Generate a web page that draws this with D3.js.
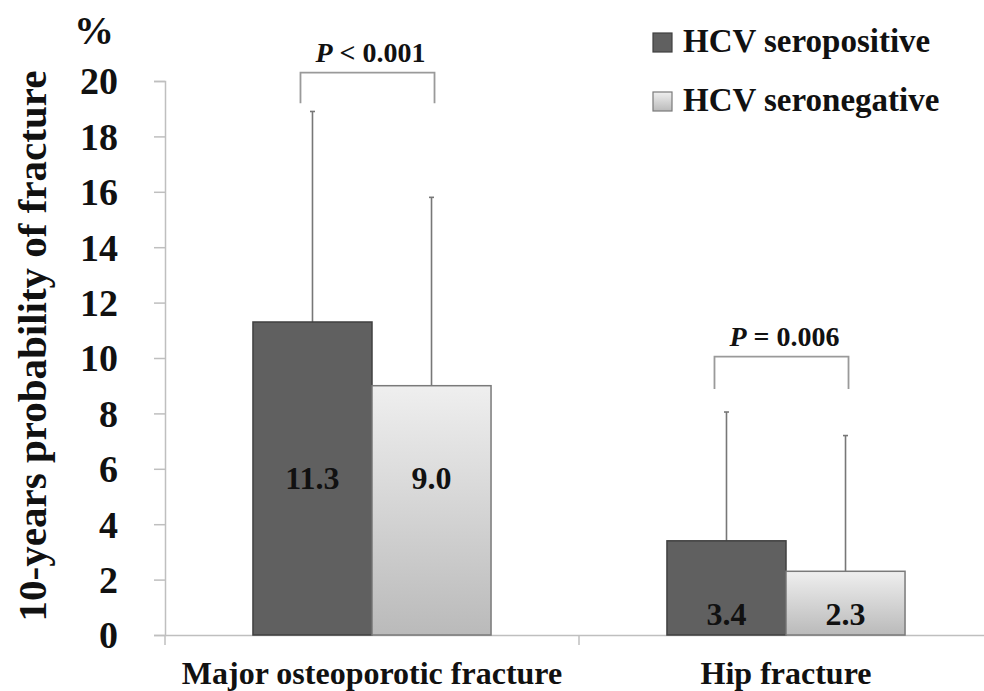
<!DOCTYPE html>
<html>
<head>
<meta charset="utf-8">
<script src="https://cdn.jsdelivr.net/npm/d3@7"></script>
<style>
  html, body { margin: 0; padding: 0; background: #fff; }
  svg { display: block; }
  text { font-family: "Liberation Serif", "Times New Roman", serif; font-weight: bold; fill: #111; }
</style>
</head>
<body>
<svg id="chart" width="984" height="691"></svg>
<script>
// ---- data ----
const categories = ["Major osteoporotic fracture", "Hip fracture"];
const series = ["HCV seropositive", "HCV seronegative"];
const seropositive = [11.3, 3.4];
const seronegative = [9.0, 2.3];
const seropositiveUpper = [18.9, 8.05];   // top of error bar
const seronegativeUpper = [15.8, 7.2];
const valueLabels = [["11.3", "9.0"], ["3.4", "2.3"]];
const labelLevel = [5.65, 0.75];          // value at which the bar labels sit
const pTexts = ["< 0.001", "= 0.006"];
const bracketTop = [20.3, 10.05];
const bracketBottom = [19.2, 8.88];
const yTicks = [0, 2, 4, 6, 8, 10, 12, 14, 16, 18, 20];
const yTitle = "10-years probability of fracture";

const svg = d3.select("#chart");
const defs = svg.append("defs");
const grad = defs.append("linearGradient").attr("id", "lightGrad")
  .attr("x1", 0).attr("y1", 0).attr("x2", 0).attr("y2", 1);
grad.append("stop").attr("offset", "0%").attr("stop-color", "#efefef");
grad.append("stop").attr("offset", "100%").attr("stop-color", "#bababa");

const colors = { fill: ["#606060", "url(#lightGrad)"], stroke: ["#404040", "#7a7a7a"] };

const y = d3.scaleLinear().domain([0, 20]).range([635, 81]);
const x0 = d3.scaleBand().domain(categories).range([165, 993]).paddingInner(0).paddingOuter(0);
const x1 = d3.scaleBand().domain(series).range([0, x0.bandwidth()]).paddingInner(0).paddingOuter(0.739);

// y axis
const yAxis = svg.append("g").attr("transform", "translate(165,0)")
  .call(d3.axisLeft(y).tickValues(yTicks).tickSize(11).tickPadding(36).tickFormat(d3.format("d")));
yAxis.select(".domain").attr("stroke", "#bfbfbf").attr("stroke-width", 1.5);
yAxis.selectAll(".tick line").attr("stroke", "#bfbfbf").attr("stroke-width", 1.5);
yAxis.selectAll(".tick text").style("font-size", "38px").style("font-family", "Liberation Serif")
  .style("font-weight", "bold").attr("fill", "#111").attr("dy", "0.34em");

// x axis
const xAxis = svg.append("g").attr("transform", `translate(0,${y(0)})`)
  .call(d3.axisBottom(x0).tickSize(0).tickPadding(26));
xAxis.select(".domain").attr("stroke", "#bfbfbf").attr("stroke-width", 1.5);
xAxis.selectAll(".tick text").style("font-size", "32px").style("font-family", "Liberation Serif")
  .style("font-weight", "bold").attr("fill", "#111");
// category separators
xAxis.selectAll(".sep").data(categories.concat(["__end"])).enter().append("line")
  .attr("class", "sep")
  .attr("x1", d => d === "__end" ? x0.range()[1] : x0(d))
  .attr("x2", d => d === "__end" ? x0.range()[1] : x0(d))
  .attr("y1", 0).attr("y2", 10)
  .attr("stroke", "#bfbfbf").attr("stroke-width", 1.5);

// rows
const rows = categories.map((c, i) => ({
  cat: c,
  vals: [seropositive[i], seronegative[i]],
  ups: [seropositiveUpper[i], seronegativeUpper[i]],
  labels: valueLabels[i],
  level: labelLevel[i],
  p: pTexts[i], bt: bracketTop[i], bb: bracketBottom[i]
}));

const groups = svg.append("g").selectAll("g").data(rows).enter().append("g")
  .attr("transform", d => `translate(${x0(d.cat)},0)`);

// error bars (behind bars)
groups.each(function(d) {
  const g = d3.select(this);
  series.forEach((s, j) => {
    const cx = x1(s) + x1.bandwidth() / 2;
    g.append("line").attr("x1", cx).attr("x2", cx)
      .attr("y1", y(d.vals[j])).attr("y2", y(d.ups[j]))
      .attr("stroke", "#777").attr("stroke-width", 1.6);
    g.append("line").attr("x1", cx - 2.5).attr("x2", cx + 2.5)
      .attr("y1", y(d.ups[j])).attr("y2", y(d.ups[j]))
      .attr("stroke", "#777").attr("stroke-width", 1.6);
  });
});

// bars
groups.each(function(d) {
  const g = d3.select(this);
  series.forEach((s, j) => {
    g.append("rect")
      .attr("x", x1(s)).attr("width", x1.bandwidth())
      .attr("y", y(d.vals[j])).attr("height", y(0) - y(d.vals[j]))
      .attr("fill", colors.fill[j]).attr("stroke", colors.stroke[j]).attr("stroke-width", 1.5);
    g.append("text")
      .attr("x", x1(s) + x1.bandwidth() / 2).attr("y", y(d.level))
      .attr("dy", "0.34em").attr("text-anchor", "middle")
      .style("font-size", "32px").text(d.labels[j]);
  });
  // bracket
  const xl = x1(series[0]) + x1.bandwidth() / 2 - 12;
  const xr = x1(series[1]) + x1.bandwidth() / 2 + 3;
  g.append("path")
    .attr("d", `M${xl},${y(d.bb)}V${y(d.bt)}H${xr}V${y(d.bb)}`)
    .attr("fill", "none").attr("stroke", "#9a9a9a").attr("stroke-width", 1.8);
  const t = g.append("text").attr("x", (xl + xr) / 2 + 3).attr("y", y(d.bt) - 11)
    .attr("text-anchor", "middle").style("font-size", "28px");
  t.append("tspan").style("font-style", "italic").text("P");
  t.append("tspan").text(" " + d.p);
});

// y title
svg.append("text")
  .attr("transform", "translate(46,346) rotate(-90)")
  .attr("text-anchor", "middle").style("font-size", "41px").text(yTitle);
svg.append("text").attr("x", 94).attr("y", 44).attr("text-anchor", "middle")
  .style("font-size", "40px").text("%");

// legend
const legend = svg.append("g").selectAll("g").data(series).enter().append("g")
  .attr("transform", (d, i) => `translate(653,${33 + i * 59})`);
legend.append("rect").attr("width", 19).attr("height", 19)
  .attr("fill", (d, i) => colors.fill[i]).attr("stroke", (d, i) => colors.stroke[i]).attr("stroke-width", 1.2);
legend.append("text").attr("x", 30).attr("y", 19).style("font-size", "33px").text(d => d);
</script>
</body>
</html>
